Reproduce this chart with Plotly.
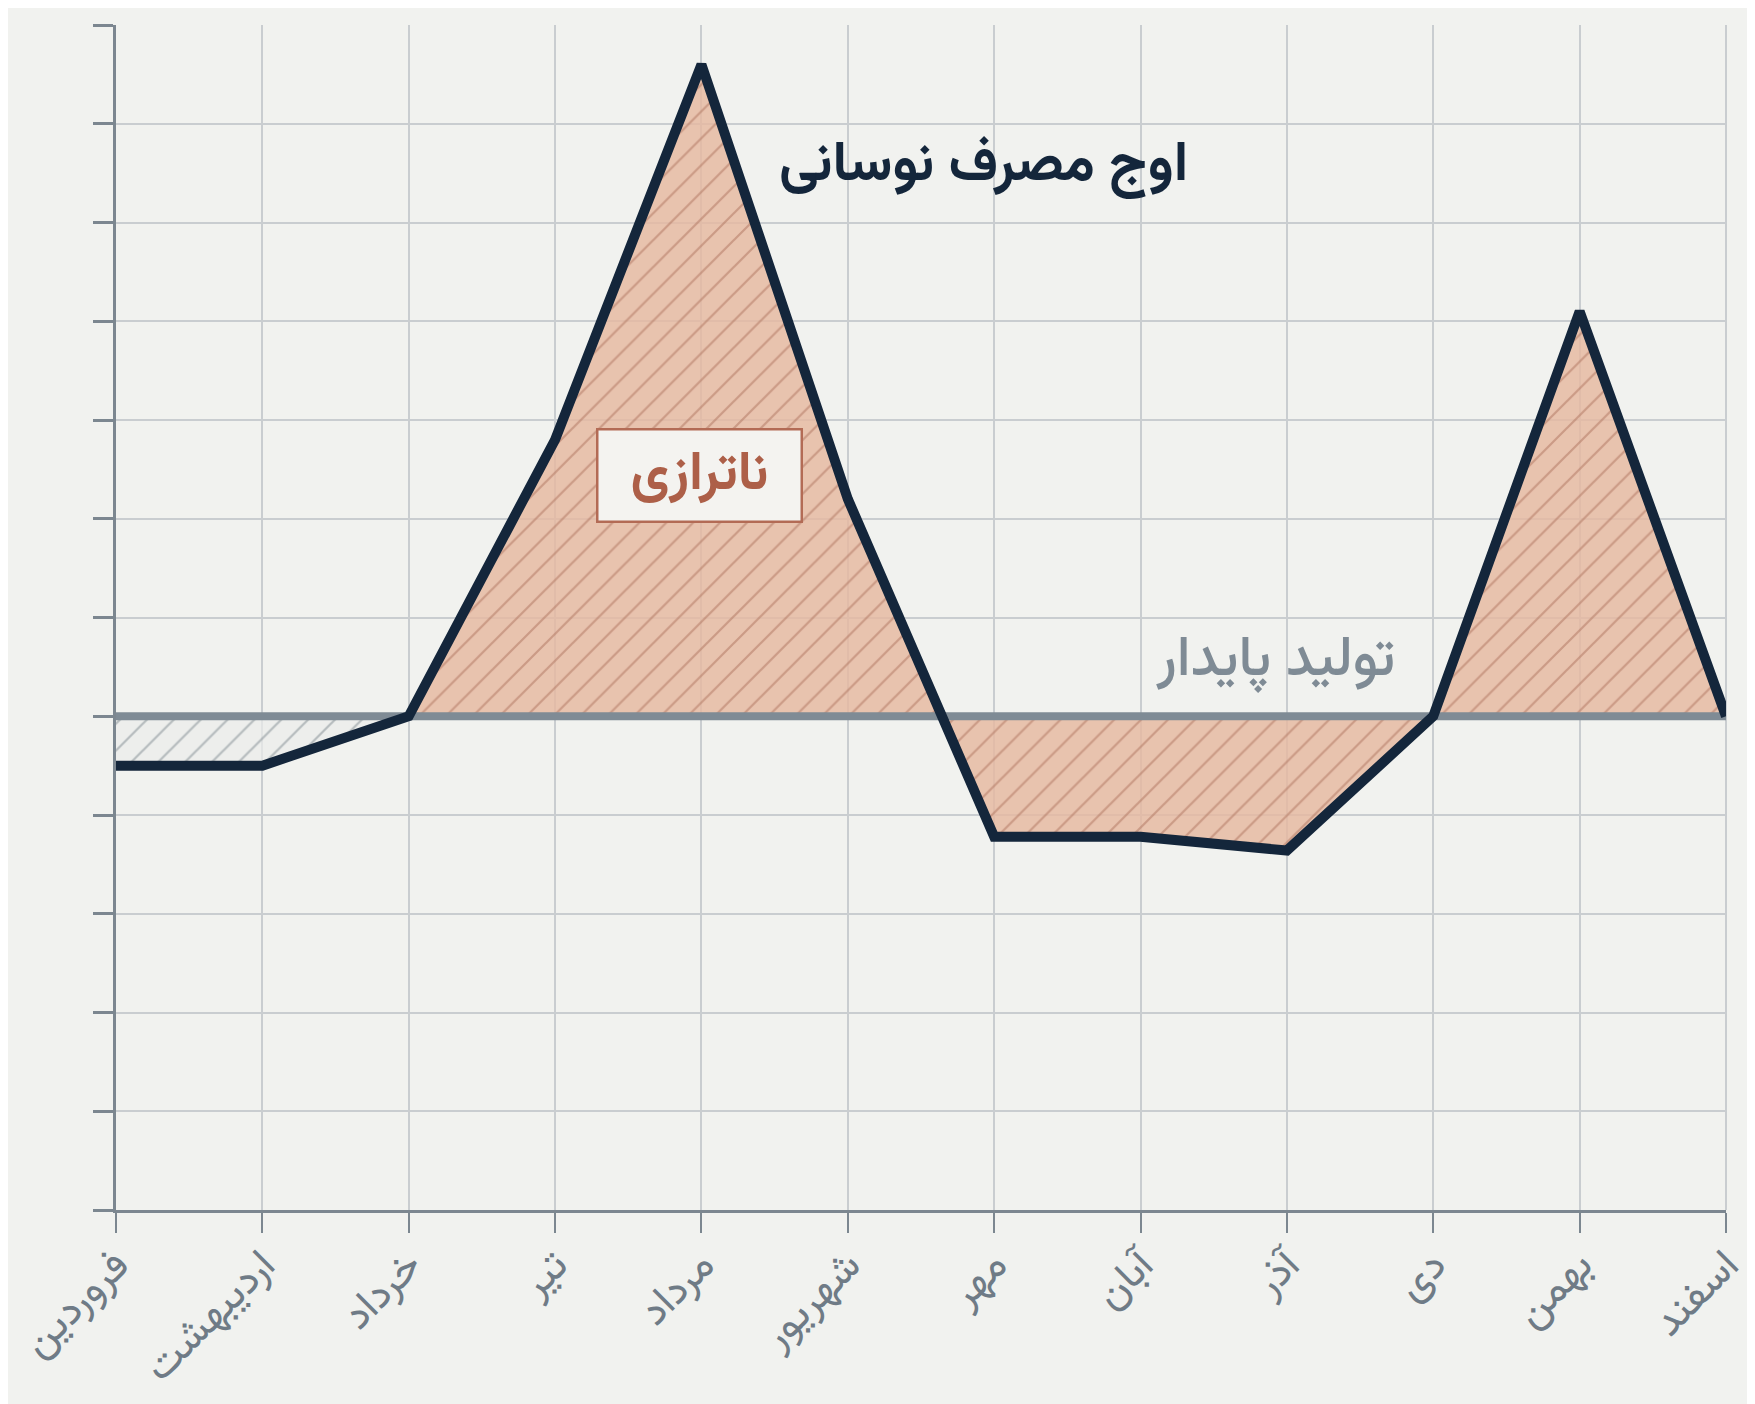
import plotly.graph_objects as go

months = ["فروردین", "اردیبهشت", "خرداد", "تیر", "مرداد", "شهریور",
          "مهر", "آبان", "آذر", "دی", "بهمن", "اسفند"]
consumption = [-0.5, -0.5, 0.0, 2.8, 6.6, 2.2, -1.22, -1.22, -1.36, 0.0, 4.1, 0.0]
production = [0.0] * 12
y_ticks = list(range(-5, 8))

peak_label = "اوج مصرف نوسانی"
gap_label = "ناترازی"
base_label = "تولید پایدار"

FONT = "Vazirmatn, 'Noto Sans Arabic', 'DejaVu Sans', sans-serif"
BG = "#f1f2ef"
NAVY = "#14263b"
BASE = "#7f8b95"
GRID = "#c9cdd0"
AXIS = "#7c8790"

x = list(range(len(months)))
fig = go.Figure()

# first segment (below baseline, gray hatch)
seg1 = slice(0, 3)
fig.add_trace(go.Scatter(x=x[seg1], y=production[seg1], mode="lines",
                         line=dict(width=0), hoverinfo="skip", showlegend=False))
fig.add_trace(go.Scatter(x=x[seg1], y=consumption[seg1], mode="lines",
                         line=dict(width=0), fill="tonexty",
                         fillcolor="rgba(236,237,235,0.7)",
                         fillpattern=dict(shape="/", bgcolor="rgba(236,237,235,0.7)",
                                          fgcolor="#7f8990", size=19, solidity=0.12),
                         hoverinfo="skip", showlegend=False))
# remaining segment (salmon hatch)
seg2 = slice(2, 12)
fig.add_trace(go.Scatter(x=x[seg2], y=production[seg2], mode="lines",
                         line=dict(width=0), hoverinfo="skip", showlegend=False))
fig.add_trace(go.Scatter(x=x[seg2], y=consumption[seg2], mode="lines",
                         line=dict(width=0), fill="tonexty",
                         fillcolor="rgba(230,184,160,0.82)",
                         fillpattern=dict(shape="/", bgcolor="rgba(230,184,160,0.82)",
                                          fgcolor="#ad735e", size=19, solidity=0.12),
                         hoverinfo="skip", showlegend=False))
# baseline
fig.add_trace(go.Scatter(x=x, y=production, mode="lines",
                         line=dict(color=BASE, width=8), showlegend=False))
# consumption line
fig.add_trace(go.Scatter(x=x, y=consumption, mode="lines",
                         line=dict(color=NAVY, width=10), showlegend=False))

fig.add_annotation(x=5.93, y=5.57, text=peak_label, showarrow=False,
                   font=dict(family=FONT, size=56, color=NAVY, weight=700))
fig.add_annotation(x=3.99, y=2.44, text=gap_label, showarrow=False,
                   font=dict(family=FONT, size=54, color="#ad5f48", weight=700),
                   bgcolor="#f4f3f0", bordercolor="#b36b55", borderwidth=2.5,
                   width=200, height=88)
fig.add_annotation(x=7.92, y=0.55, text=base_label, showarrow=False,
                   font=dict(family=FONT, size=56, color=BASE, weight=500))

# light frame line on the right edge of the plot area
fig.add_shape(type="line", xref="paper", yref="paper", x0=1, x1=1, y0=0, y1=1,
              line=dict(color=GRID, width=2), layer="below")

fig.update_xaxes(range=[0, 11], tickmode="array", tickvals=x, ticktext=months,
                 tickangle=-45, ticks="outside", ticklen=20, tickwidth=2,
                 tickcolor=AXIS, showline=True, linecolor=AXIS, linewidth=3,
                 showgrid=True, gridcolor=GRID, gridwidth=2, zeroline=False,
                 automargin=False, ticklabeloverflow="allow",
                 ticklabelstandoff=-10,
                 tickfont=dict(family=FONT, size=42, color="#6f7b86"))
fig.update_yaxes(range=[-5, 7], tickmode="array", tickvals=y_ticks,
                 showticklabels=False, ticks="outside", ticklen=20, tickwidth=3,
                 tickcolor=AXIS, showline=True, linecolor=AXIS, linewidth=3,
                 showgrid=True, gridcolor=GRID, gridwidth=2, zeroline=False,
                 automargin=False)

fig.update_layout(width=1755, height=1404, paper_bgcolor=BG, plot_bgcolor=BG,
                  margin=dict(l=108, r=37, t=17, b=202), showlegend=False,
                  font=dict(family=FONT))

fig.write_html("out.html")
